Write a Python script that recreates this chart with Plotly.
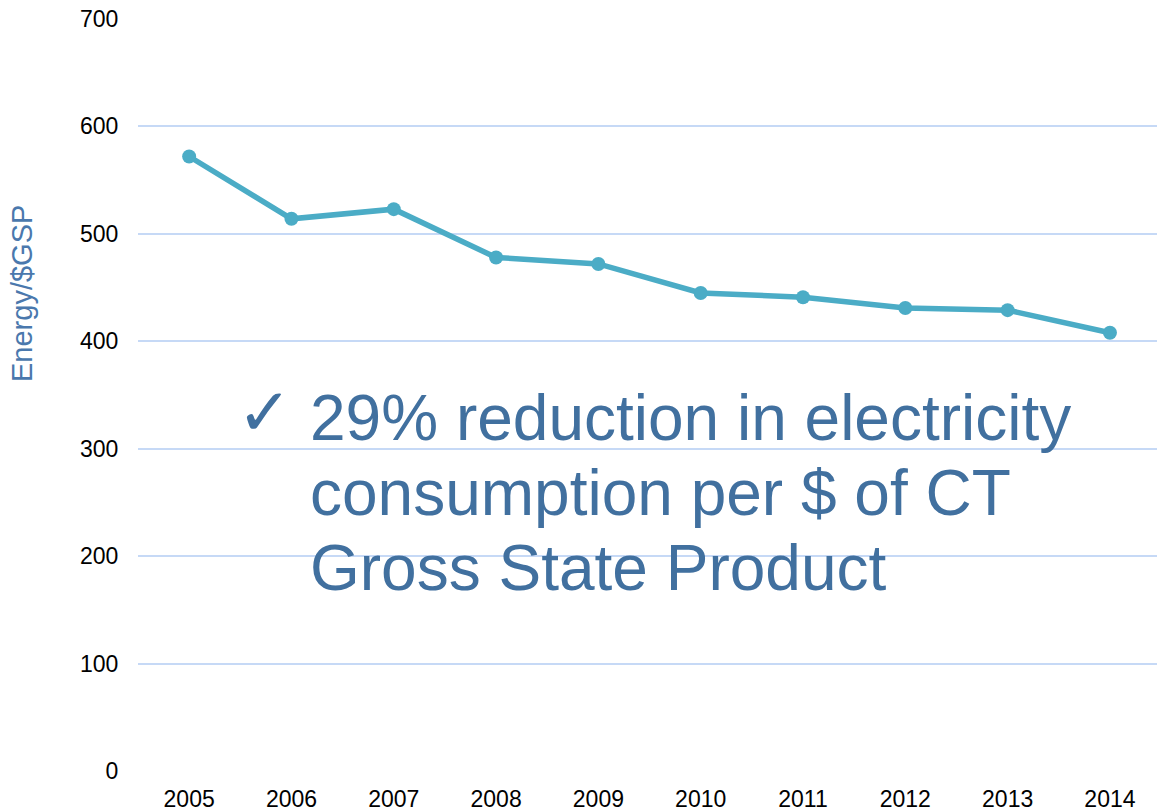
import plotly.graph_objects as go

years = ["2005", "2006", "2007", "2008", "2009", "2010", "2011", "2012", "2013", "2014"]
energy_per_gsp = [572, 514, 523, 478, 472, 445, 441, 431, 429, 408]
y_ticks = [0, 100, 200, 300, 400, 500, 600, 700]

note_lines = [
    "29% reduction in electricity",
    "consumption per $ of CT",
    "Gross State Product",
]

W, H = 1157, 812
ML, MR, MT, MB = 138, 0, 19, 41
plot_w = W - ML - MR
plot_h = H - MT - MB


def px_x(px):
    return (px - ML) / plot_w


def px_y(py):
    return (H - MB - py) / plot_h


fig = go.Figure()
fig.add_trace(go.Scatter(
    x=list(range(len(years))),
    y=energy_per_gsp,
    mode="lines+markers",
    line=dict(color="#4bacc6", width=5.5),
    marker=dict(color="#4bacc6", size=14),
    showlegend=False,
    hoverinfo="skip",
))

text_blue = "#41709f"
line_centers = [418, 493, 568]
for txt, cy in zip(note_lines, line_centers):
    fig.add_annotation(
        x=px_x(308), y=px_y(cy), xref="paper", yref="paper",
        text=txt, showarrow=False, xanchor="left", yanchor="middle",
        font=dict(family="Liberation Sans, Arial", size=64, color=text_blue),
    )

fig.add_annotation(
    x=px_x(264), y=px_y(412), xref="paper", yref="paper",
    text="<b>✓</b>", showarrow=False, xanchor="center", yanchor="middle",
    font=dict(family="DejaVu Sans", size=66, color=text_blue),
)

# vertical axis label
fig.add_annotation(
    x=px_x(22), y=px_y(294), xref="paper", yref="paper",
    text="Energy/$GSP", showarrow=False, textangle=-90,
    xanchor="center", yanchor="middle",
    font=dict(family="Liberation Sans, Arial", size=29, color="#4a78ad"),
)

fig.update_layout(
    width=W, height=H,
    margin=dict(l=ML, r=MR, t=MT, b=MB, pad=0, autoexpand=False),
    paper_bgcolor="white", plot_bgcolor="white",
    font=dict(family="Liberation Sans, Arial", size=23, color="black"),
    xaxis=dict(
        tickmode="array", tickvals=list(range(len(years))), ticktext=years,
        range=[-0.5, 9.46], showgrid=False, zeroline=False, showline=False,
        ticks="outside", ticklen=7, tickcolor="rgba(0,0,0,0)",
        tickfont=dict(size=23, color="black"), automargin=False,
    ),
    yaxis=dict(
        range=[0, 700], tickmode="array", tickvals=y_ticks,
        showgrid=True, gridcolor="#c6d9f6", gridwidth=1.5,
        zeroline=False, showline=False, ticks="outside", ticklen=14,
        tickcolor="rgba(0,0,0,0)", tickfont=dict(size=23, color="black"),
        automargin=False,
    ),
)

fig.write_html("out.html")
